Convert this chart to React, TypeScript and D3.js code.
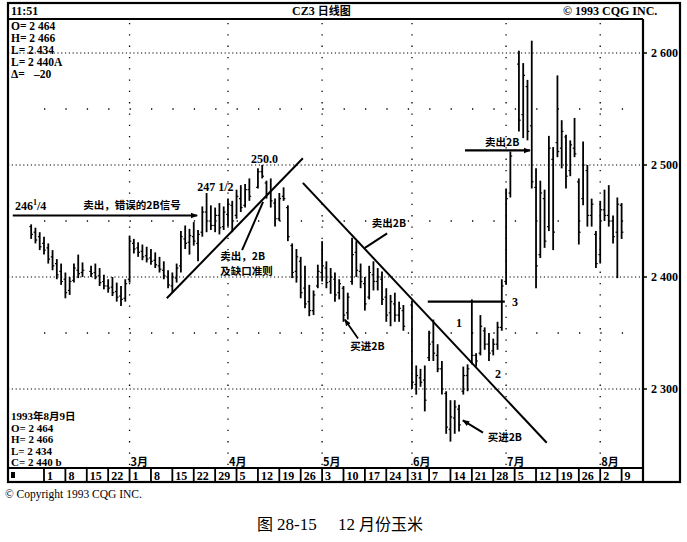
import React from "react";
import * as d3 from "d3";

// Week-start labels; week 0 = week of 25 Jan 1993, one slot per trading weekday
const weekLabels = ["", "1", "8", "15", "22", "1", "8", "15", "22", "29", "5", "12", "19", "26", "3", "10", "17", "24", "31", "7", "14", "21", "28", "5", "12", "19", "26", "2", "9"];
const monthLabels = ["3月", "4月", "5月", "6月", "7月", "8月"];
const monthStartSlots = [25, 48, 70, 91, 113, 135];
const firstSlot = 2; // 27 Jan 1993
const yTicks = [2300, 2400, 2500, 2600];
const yMinor = [2350, 2450, 2550];

const highs = [
  2447, 2444, 2440,
  2436, 2430, 2424, 2416, 2412,
  2404, 2400, 2412, 2420, 2413,
  null, 2410, 2412, 2408, 2402,
  2398, 2400, 2395, 2392, 2398,
  2437, 2434, 2431, 2429, 2427,
  2425, 2422, 2418, 2414, 2406,
  2404, 2412, 2441, 2446, 2443,
  2449, 2442, 2463, 2475, 2464,
  2462, 2466, 2463, 2470, 2468,
  2478, 2482, 2483, 2488, null,
  2497, 2500, 2486, 2488, 2470,
  2475, 2480, 2464, 2430, 2425,
  2418, 2410, 2393, 2388, 2411,
  2432, 2414, 2408, 2404, 2398,
  2392, 2386, 2435, 2432, 2412,
  2400, 2410, 2414, 2408, 2405,
  2390, 2384, 2386, 2378, 2375,
  null, 2379, 2321, 2318, 2321,
  2352, 2362, 2340, 2325, 2298,
  2290, 2290, 2286, 2320, 2322,
  2380, 2332, 2366, 2355, 2350,
  2345, 2360, 2398, 2479, 2512,
  null, 2602, 2591, 2576, 2611,
  2497, 2486, 2478, 2526, 2516,
  2580, 2540, 2527, 2522, 2542,
  2488, 2521, 2500, 2470, 2441,
  2468, 2478, 2482, 2455, 2471,
  2466,
];
const lows = [
  2434, 2430, 2424,
  2420, 2412, 2406, 2398, 2393,
  2381, 2384, 2395, 2399, 2400,
  null, 2400, 2398, 2392, 2389,
  2386, 2383, 2378, 2374, 2378,
  2395, 2421, 2418, 2415, 2413,
  2411, 2408, 2404, 2398, 2390,
  2386, 2395, 2404, 2425, 2420,
  2428, 2414, 2436, 2440, 2442,
  2440, 2438, 2442, 2445, 2440,
  2452, 2458, 2462, 2468, null,
  2479, 2488, 2470, 2462, 2445,
  2450, 2468, 2432, 2399, 2395,
  2381, 2372, 2365, 2366, 2390,
  2396, 2390, 2385, 2378, 2380,
  2360, 2362, 2393, 2400, 2390,
  2370, 2380, 2388, 2388, 2375,
  2360, 2356, 2360, 2360, 2352,
  null, 2300, 2295, 2302, 2280,
  2325, 2325, 2315, 2295, 2260,
  2253, 2260, 2262, 2295, 2298,
  2322, 2320, 2330, 2335, 2325,
  2330, 2335, 2352, 2393, 2471,
  null, 2530, 2524, 2522, 2479,
  2390, 2417, 2426, 2441, 2424,
  2507, 2497, 2479, 2490, 2507,
  2429, 2464, 2445, 2445, 2408,
  2412, 2450, 2445, 2430, 2399,
  2434,
];
const opens = [
  2445, 2440, 2436,
  2430, 2426, 2418, 2412, 2405,
  2398, 2388, 2397, 2406, 2404,
  null, 2405, 2404, 2401, 2396,
  2392, 2391, 2387, 2383, 2381,
  2398, 2430, 2426, 2423, 2419,
  2417, 2415, 2410, 2406, 2400,
  2392, 2399, 2410, 2434, 2431,
  2436, 2430, 2440, 2458, 2450,
  2446, 2455, 2445, 2456, 2464,
  2455, 2470, 2464, 2478, null,
  2480, 2494, 2484, 2475, 2466,
  2452, 2472, 2462, 2428, 2405,
  2414, 2390, 2378, 2370, 2392,
  2404, 2408, 2396, 2398, 2386,
  2390, 2368, 2396, 2422, 2405,
  2394, 2382, 2402, 2396, 2398,
  2382, 2368, 2376, 2366, 2370,
  null, 2375, 2304, 2310, 2308,
  2328, 2342, 2330, 2318, 2296,
  2264, 2274, 2282, 2298, 2312,
  2324, 2330, 2332, 2352, 2340,
  2334, 2340, 2355, 2396, 2475,
  null, 2590, 2545, 2570, 2535,
  2480, 2420, 2470, 2445, 2505,
  2520, 2515, 2525, 2495, 2515,
  2485, 2470, 2495, 2455, 2438,
  2420, 2460, 2455, 2450, 2440,
  2464,
];
const closes = [
  2438, 2433, 2427,
  2424, 2416, 2410, 2402, 2396,
  2386, 2396, 2408, 2403, 2406,
  null, 2403, 2400, 2395, 2392,
  2390, 2386, 2382, 2380, 2394,
  2432, 2425, 2422, 2418, 2416,
  2414, 2411, 2407, 2401, 2393,
  2400, 2408, 2436, 2430, 2437,
  2432, 2438, 2458, 2450, 2446,
  2455, 2444, 2458, 2465, 2450,
  2472, 2462, 2478, 2472, null,
  2494, 2490, 2474, 2468, 2452,
  2470, 2470, 2436, 2404, 2418,
  2386, 2376, 2370, 2384, 2405,
  2410, 2395, 2400, 2384, 2394,
  2366, 2382, 2420, 2406, 2396,
  2376, 2404, 2396, 2400, 2380,
  2366, 2378, 2366, 2372, 2356,
  null, 2306, 2312, 2306, 2290,
  2340, 2332, 2318, 2300, 2266,
  2275, 2284, 2268, 2312, 2318,
  2330, 2325, 2356, 2340, 2332,
  2340, 2355, 2392, 2470, 2508,
  null, 2540, 2580, 2530, 2485,
  2410, 2475, 2432, 2515, 2440,
  2512, 2530, 2490, 2518, 2510,
  2440, 2500, 2455, 2465, 2412,
  2460, 2455, 2450, 2436, 2465,
  2440,
];

// annotations in data space: [slot, price]
const upTrend = [[33.7, 2381], [65.5, 2506]];
const downTrend = [[65.5, 2484], [122.5, 2252]];
const falseSellArrow = [[-2.3, 2455], [40.8, 2455]];
const line3 = [[94.7, 2378], [112.7, 2378]];
const sellArrowJul = [[103.4, 2513], [118.6, 2513]];
const gapArrow = [[51.3, 2424], [56.2, 2467]];
const sellArrowMay = [[85.2, 2439], [80.0, 2426]];
const buyArrowMay = [[78.4, 2345], [75.3, 2362]];
const buyArrowJun = [[107.6, 2261], [102.9, 2272]];

const W = 687, H = 542;
const L = 8, R = 643, T = 19, B = 468, FR = 680;
const serif = "'Liberation Serif', 'Times New Roman', serif";
const cjk = "'Noto Sans CJK SC', sans-serif";

export default function App() {
  const x = d3.scaleLinear().domain([0, 145]).range([22.6, R]);
  const y = d3.scaleLinear().domain([2300, 2600]).range([389, 53]);
  const line = d3.line<number[]>().x((d) => x(d[0])).y((d) => y(d[1]));

  const bars = highs.map((h, i) => ({ slot: firstSlot + i, h, l: lows[i], o: opens[i], c: closes[i] })).filter((d) => d.h != null);

  const txt = (d: number[], dx = 0) => ({ x: x(d[0]) + dx, y: y(d[1]) });

  return (
    <svg width={W} height={H} style={{ position: "absolute", left: 0, top: 0, background: "#fff" }}>
      <defs>
        <marker id="ah" viewBox="0 0 10 10" refX="9" refY="5" markerWidth="7" markerHeight="7" orient="auto-start-reverse" markerUnits="userSpaceOnUse">
          <path d="M0,1 L10,5 L0,9 z" fill="#000" />
        </marker>
      </defs>
      <rect width={W} height={H} fill="#fff" />
      {/* gridlines */}
      {yTicks.map((t) => (
        <line key={"g" + t} x1={L} x2={R} y1={y(t)} y2={y(t)} stroke="#000" strokeWidth={1} strokeDasharray="1.2,2.6" />
      ))}
      {yMinor.map((t) => (
        <line key={"m" + t} x1={x(5)} x2={R} y1={y(t)} y2={y(t)} stroke="#000" strokeWidth={1.3} strokeDasharray="1.3,20.1" />
      ))}
      {monthStartSlots.map((s) => (
        <line key={"v" + s} x1={x(s)} x2={x(s)} y1={T + 4} y2={B} stroke="#000" strokeWidth={1.3} strokeDasharray="1.3,10" />
      ))}

      {/* OHLC bars */}
      {bars.map((d) => (
        <g key={d.slot} stroke="#000">
          <line x1={x(d.slot)} x2={x(d.slot)} y1={y(d.h as number)} y2={y(d.l as number)} strokeWidth={1.8} />
          <line x1={x(d.slot) - 1.8} x2={x(d.slot)} y1={y(d.o as number)} y2={y(d.o as number)} strokeWidth={1.2} />
          <line x1={x(d.slot)} x2={x(d.slot) + 1.8} y1={y(d.c as number)} y2={y(d.c as number)} strokeWidth={1.2} />
        </g>
      ))}

      {/* trend lines and annotations */}
      <path d={line(upTrend as any) as string} stroke="#000" strokeWidth={2} fill="none" />
      <path d={line(downTrend as any) as string} stroke="#000" strokeWidth={2} fill="none" />
      <path d={line(falseSellArrow as any) as string} stroke="#000" strokeWidth={2} fill="none" markerEnd="url(#ah)" />
      <path d={line(line3 as any) as string} stroke="#000" strokeWidth={2.2} fill="none" />
      <path d={line(sellArrowJul as any) as string} stroke="#000" strokeWidth={2.2} fill="none" markerEnd="url(#ah)" />
      <path d={line(gapArrow as any) as string} stroke="#000" strokeWidth={2} fill="none" />
      <path d={line(sellArrowMay as any) as string} stroke="#000" strokeWidth={2} fill="none" />
      <path d={line(buyArrowMay as any) as string} stroke="#000" strokeWidth={1.8} fill="none" markerEnd="url(#ah)" />
      <path d={line(buyArrowJun as any) as string} stroke="#000" strokeWidth={2} fill="none" markerEnd="url(#ah)" />

      <g fontFamily={serif} fontSize={12} fontWeight="bold">
        <text {...txt([-1.8, 2459.5])}>246<tspan fontSize={8} dy={-5}>1</tspan><tspan dy={5}>/4</tspan></text>
        <text {...txt([40.8, 2477])}>247 1/2</text>
        <text {...txt([53.4, 2502])}>250.0</text>
        <text {...txt([101.3, 2355])}>1</text>
        <text {...txt([110.4, 2310])}>2</text>
        <text {...txt([114.4, 2374])}>3</text>
      </g>
      <g fontFamily={cjk} fontSize={10.5} fontWeight="bold">
        <text {...txt([14.2, 2461])}>卖出，错误的2B信号</text>
        <text {...txt([46.2, 2415])}>卖出，2B</text>
        <text {...txt([46.2, 2402])}>及缺口准则</text>
        <text {...txt([81.6, 2445])}>卖出2B</text>
        <text {...txt([76.6, 2335])}>买进2B</text>
        <text {...txt([108.7, 2254])}>买进2B</text>
        <text {...txt([108.1, 2517])}>卖出2B</text>
      </g>

      {/* info text */}
      <g fontFamily={serif} fontSize={11.5} fontWeight="bold">
        <text x={11} y={30}>O= 2 464</text>
        <text x={11} y={42}>H= 2 466</text>
        <text x={11} y={54}>L= 2 434</text>
        <text x={11} y={66}>L= 2 440A</text>
        <text x={11} y={78}>Δ=<tspan x={34}>–20</tspan></text>
      </g>
      <g fontFamily={serif} fontSize={11} fontWeight="bold">
        <text x={11} y={420} fill="#000">1993<tspan fontFamily={cjk} fontSize={10.5}>年</tspan>8<tspan fontFamily={cjk} fontSize={10.5}>月</tspan>9<tspan fontFamily={cjk} fontSize={10.5}>日</tspan></text>
        <text x={11} y={431.5}>O= 2 464</text>
        <text x={11} y={443}>H= 2 466</text>
        <text x={11} y={454.5}>L= 2 434</text>
        <text x={11} y={466}>C= 2 440 b</text>
      </g>

      {/* month labels */}
      <g fontFamily={cjk} fontSize={11} fontWeight="bold">
        {monthLabels.map((m, i) => (
          <text key={m} x={x(monthStartSlots[i]) + 1} y={B - 2}>{m}</text>
        ))}
      </g>

      {/* frame */}
      <rect x={L} y={3} width={FR - L} height={479} fill="none" stroke="#000" strokeWidth={2.2} />
      <line x1={L} x2={R} y1={T} y2={T} stroke="#000" strokeWidth={1.8} />
      <line x1={R} x2={R} y1={T} y2={482} stroke="#000" strokeWidth={2.2} />
      <line x1={L} x2={R} y1={B} y2={B} stroke="#000" strokeWidth={1.8} />

      {/* header */}
      <text x={11} y={15} fontFamily={serif} fontSize={12} fontWeight="bold">11:51</text>
      <text x={292} y={15} fontFamily={serif} fontSize={12} fontWeight="bold">CZ3 <tspan fontFamily={cjk} fontSize={11}>日线图</tspan></text>
      <text x={563} y={15} fontFamily={serif} fontSize={12} fontWeight="bold">© 1993 CQG INC.</text>

      {/* y labels */}
      {yTicks.map((t) => (
        <g key={"yl" + t}>
          <line x1={R} x2={R + 4} y1={y(t)} y2={y(t)} stroke="#000" strokeWidth={1.5} />
          <text x={651} y={y(t) + 4} fontFamily={serif} fontSize={12} fontWeight="bold">{t.toString().replace(/^(\d)/, "$1 ")}</text>
        </g>
      ))}

      {/* date boxes */}
      <rect x={11} y={472} width={4} height={6} fill="#000" />
      {weekLabels.map((w, i) =>
        i === 0 ? null : (
          <g key={"w" + i}>
            <line x1={x(i * 5)} x2={x(i * 5)} y1={B} y2={482} stroke="#000" strokeWidth={1.8} />
            <text x={x(i * 5) + 3} y={479.5} fontFamily={serif} fontSize={12} fontWeight="bold">{w}</text>
          </g>
        )
      )}

      {/* footer */}
      <text x={5} y={498} fontFamily={serif} fontSize={11.5}>© Copyright 1993 CQG INC.</text>
      <text x={257} y={530} fontSize={16} fontFamily={cjk}>
        图<tspan fontFamily={serif} fontSize={17} dx={4}>28-15</tspan><tspan x={338} fontFamily={serif} fontSize={17}>12</tspan><tspan dx={4}>月份玉米</tspan>
      </text>
    </svg>
  );
}
